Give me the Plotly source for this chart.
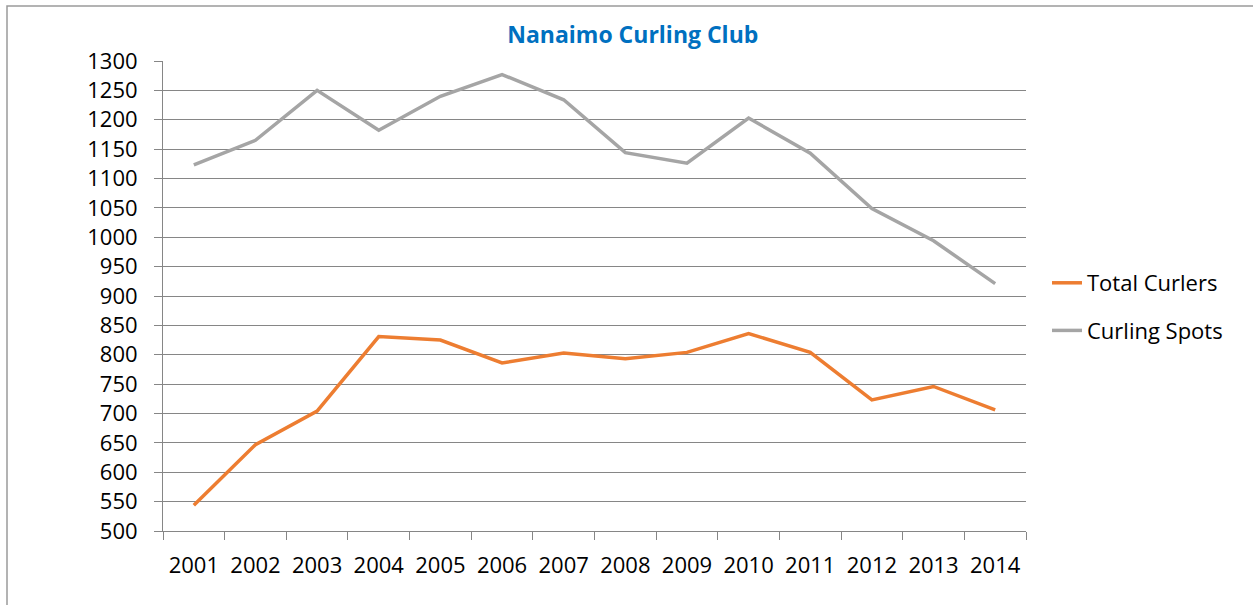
import plotly.graph_objects as go

years = ["2001", "2002", "2003", "2004", "2005", "2006", "2007",
         "2008", "2009", "2010", "2011", "2012", "2013", "2014"]
total_curlers = [544, 647, 704, 831, 825, 786, 803, 793, 804, 836, 804, 723, 746, 706]
curling_spots = [1123, 1165, 1250, 1182, 1240, 1277, 1234, 1144, 1126, 1203, 1143, 1049, 994, 921]
y_ticks = list(range(500, 1301, 50))

W, H = 1253, 605
L, R, T, B = 163, 1026, 61, 531
pw, ph = R - L, B - T

def px_x(p):
    return (p - L) / pw

def px_y(p):
    return (B - p) / ph

font_family = "Open Sans, Liberation Sans, sans-serif"

fig = go.Figure()
fig.add_trace(go.Scatter(x=years, y=total_curlers, mode="lines", name="Total Curlers",
                         line=dict(color="#ED7D31", width=3.5), legendgroup="a"))
fig.add_trace(go.Scatter(x=years, y=curling_spots, mode="lines", name="Curling Spots",
                         line=dict(color="#A5A5A5", width=3.5), legendgroup="b"))

fig.update_layout(
    width=W, height=H,
    margin=dict(l=L, r=W - R, t=T, b=H - B, autoexpand=False),
    paper_bgcolor="white", plot_bgcolor="white",
    title=dict(text="<b>Nanaimo Curling Club</b>", x=0.505, xanchor="center",
               y=1 - 35 / H, yanchor="middle",
               font=dict(family=font_family, size=23, color="#0070C0")),
    font=dict(family=font_family, size=22, color="#000000"),
    showlegend=True,
    legend=dict(x=px_x(1047), xanchor="left", y=px_y(307), yanchor="middle",
                traceorder="grouped", tracegroupgap=16,
                font=dict(family=font_family, size=22, color="#000000"),
                bgcolor="rgba(0,0,0,0)"),
    xaxis=dict(type="category", showgrid=False, showline=True, linecolor="#868686", linewidth=1,
               ticks="outside", ticklen=8, tickcolor="#868686", tickson="boundaries",
               ticklabelstandoff=15,
               tickfont=dict(size=22), range=[-0.5, len(years) - 0.5], fixedrange=True),
    yaxis=dict(range=[500, 1300], tickvals=y_ticks, showgrid=True, gridcolor="#868686", gridwidth=1,
               showline=True, linecolor="#868686", linewidth=1, zeroline=False,
               ticks="outside", ticklen=8, tickcolor="#868686", ticklabelstandoff=12,
               tickfont=dict(size=22), fixedrange=True),
    shapes=[dict(type="rect", xref="paper", yref="paper",
                 x0=px_x(7), x1=px_x(1300), y0=px_y(660), y1=px_y(6),
                 line=dict(color="#9a9a9a", width=1.5), fillcolor="rgba(0,0,0,0)", layer="below")],
)

fig.write_html("out.html", config={"displayModeBar": False},
               post_script="document.body.style.margin='0';")
